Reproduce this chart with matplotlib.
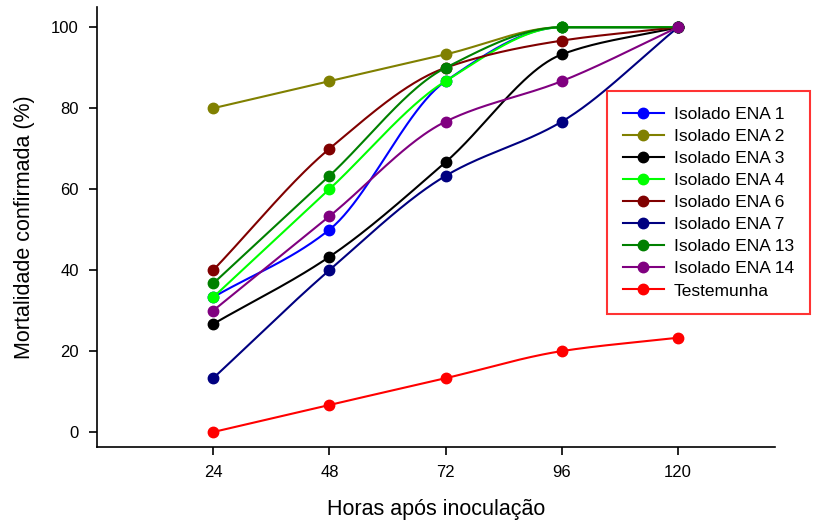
import numpy as np
import matplotlib
matplotlib.use('Agg')
import matplotlib.pyplot as plt

plt.rcParams['font.family'] = ['Liberation Sans', 'DejaVu Sans']

# Data.
hours = [24, 48, 72, 96, 120]

series_names = ['Isolado ENA 1', 'Isolado ENA 2', 'Isolado ENA 3', 'Isolado ENA 4',
                'Isolado ENA 6', 'Isolado ENA 7', 'Isolado ENA 13', 'Isolado ENA 14',
                'Testemunha']
series_colors = ['#0000ff', '#808000', '#000000', '#00ff00',
                 '#800000', '#000080', '#008000', '#800080', '#ff0000']

ena_1 = [33.3, 50.0, 86.7, 100.0, 100.0]
ena_2 = [80.0, 86.7, 93.3, 100.0, 100.0]
ena_3 = [26.7, 43.3, 66.7, 93.3, 100.0]
ena_4 = [33.3, 60.0, 86.7, 100.0, 100.0]
ena_6 = [40.0, 70.0, 90.0, 96.7, 100.0]
ena_7 = [13.3, 40.0, 63.3, 76.7, 100.0]
ena_13 = [36.7, 63.3, 90.0, 100.0, 100.0]
ena_14 = [30.0, 53.3, 76.7, 86.7, 100.0]
testemunha = [0.0, 6.7, 13.3, 20.0, 23.3]

series_values = [ena_1, ena_2, ena_3, ena_4, ena_6, ena_7, ena_13, ena_14, testemunha]


def pchip(x, y, n=200):
    # monotone cubic (Fritsch-Carlson), keeps the curve from overshooting
    x = np.asarray(x, float)
    y = np.asarray(y, float)
    h = np.diff(x)
    delta = np.diff(y) / h
    k = len(x)
    d = np.zeros(k)
    for i in range(1, k - 1):
        if delta[i - 1] * delta[i] > 0:
            w1 = 2 * h[i] + h[i - 1]
            w2 = h[i] + 2 * h[i - 1]
            d[i] = (w1 + w2) / (w1 / delta[i - 1] + w2 / delta[i])
    d[0] = delta[0]
    d[-1] = delta[-1]
    xs = np.linspace(x[0], x[-1], n)
    ys = np.empty_like(xs)
    for j, xv in enumerate(xs):
        i = min(np.searchsorted(x, xv, side='right') - 1, k - 2)
        t = (xv - x[i]) / h[i]
        h00 = 2 * t ** 3 - 3 * t ** 2 + 1
        h10 = t ** 3 - 2 * t ** 2 + t
        h01 = -2 * t ** 3 + 3 * t ** 2
        h11 = t ** 3 - t ** 2
        ys[j] = h00 * y[i] + h10 * h[i] * d[i] + h01 * y[i + 1] + h11 * h[i] * d[i + 1]
    return xs, ys


fig = plt.figure(figsize=(8.14, 5.22), dpi=100)
ax = fig.add_axes([97 / 814, 1 - 447 / 522, (775 - 97) / 814, 440 / 522])

handles = []
for name, color, values in zip(series_names, series_colors, series_values):
    xs, ys = pchip(hours, values)
    ax.plot(xs, ys, color=color, lw=1.5)
    ax.plot(hours, values, 'o', color=color, ms=7.5)
    h, = ax.plot([], [], '-o', color=color, lw=1.5, ms=7.5, label=name)
    handles.append(h)

ax.set_xlim(0, 140)
ax.set_ylim(-3.7, 105)
ax.set_xticks(hours)
ax.set_yticks([0, 20, 40, 60, 80, 100])
ax.spines['top'].set_visible(False)
ax.spines['right'].set_visible(False)
ax.spines['left'].set_linewidth(1.2)
ax.spines['bottom'].set_linewidth(1.2)
ax.tick_params(direction='out', length=6, width=1.2, labelsize=12, pad=7)

ax.set_xlabel('Horas após inoculação', fontsize=15.5, labelpad=14)
ax.set_ylabel('Mortalidade confirmada (%)', fontsize=15.5, labelpad=12)

leg = fig.legend(handles=handles, loc='upper left',
                 bbox_to_anchor=(607 / 814, 1 - 91 / 522),
                 fontsize=12.5, frameon=True, fancybox=False,
                 handlelength=2.4, handletextpad=0.55, labelspacing=0.4,
                 borderpad=0.9, borderaxespad=0)
leg.get_frame().set_edgecolor('#ff0000')
leg.get_frame().set_linewidth(1.5)

fig.savefig('out.png', dpi=100)
